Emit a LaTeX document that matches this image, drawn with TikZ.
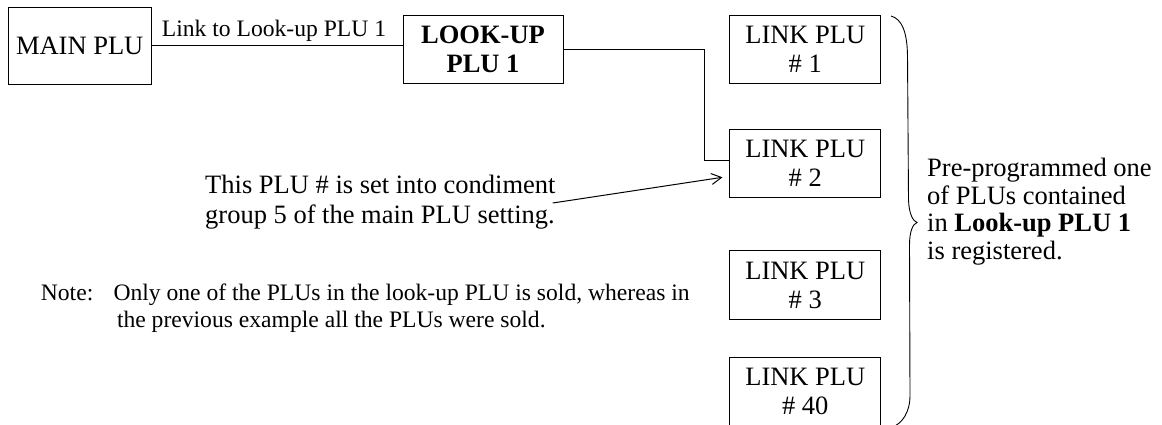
\documentclass[tikz,border=0pt]{standalone}
\usepackage{fontspec}
\setmainfont{Liberation Serif}
\usetikzlibrary{arrows.meta}
\newcommand{\bigtxt}{\fontsize{26.5}{29}\selectfont}
\newcommand{\smalltxt}{\fontsize{23.6}{27}\selectfont}
\begin{document}
\begin{tikzpicture}[x=1pt,y=-1pt,
  plubox/.style={draw, line width=1pt, inner sep=0pt, align=center,
                 font=\bigtxt, minimum height=68.3pt},
  linkbox/.style={plubox, minimum width=150.7pt},
  wire/.style={line width=1pt},
  textblock/.style={inner sep=0pt, align=left},
]
\useasboundingbox (0,0) rectangle (1162,425);
\clip (0,0) rectangle (1162,425);

% PLU boxes
\node[plubox, minimum width=142.7pt, minimum height=76.7pt] (main) at (79.7,45.7) {MAIN PLU};
\node[plubox, minimum width=160pt, font=\bigtxt\bfseries] (look) at (483,49.2) {LOOK-UP\\PLU 1};
\node[linkbox] (l1)  at (805.3,49.2)  {LINK PLU\\\# 1};
\node[linkbox] (l2)  at (805.3,163.5) {LINK PLU\\\# 2};
\node[linkbox] (l3)  at (805.3,285)   {LINK PLU\\\# 3};
\node[linkbox] (l40) at (805.3,391.5) {LINK PLU\\\# 40};

% links
\draw[wire] (main.east) -- (main.east -| look.west)
  node[midway, anchor=base, yshift=8.7pt, xshift=-3pt, font=\smalltxt] (lbl) {Link to Look-up PLU 1};
\draw[wire] (look.east) -- ++(141,0) |- ([yshift=2.8pt]l2.west);

% condiment remark (base anchor = baseline of the last line)
\node[textblock, font=\fontsize{26.5}{30}\selectfont, anchor=base west] (cond) at (205,223)
  {This PLU \# is set into condiment\\group 5 of the main PLU setting.};
\draw[wire, -{Straight Barb[length=10pt,width=11pt]}]
  ([xshift=-3pt,yshift=20pt]cond.base east) -- ([xshift=-7pt,yshift=-13.8pt]l2.west);

% brace over the link PLUs
\draw[line width=0.9pt] (891,16) .. controls (902,19) and (907,32) .. (907.5,55)
  -- (908.5,200) .. controls (909,214) and (913,221) .. (917,222.5)
  .. controls (913,224) and (909.5,231) .. (909.5,245)
  -- (910,395) .. controls (910,412) and (903,423) .. (891,428);

\node[textblock, font=\fontsize{26.5}{27.5}\selectfont, anchor=base west] (reg) at (927,259.2)
  {Pre-programmed one\\of PLUs contained\\in \textbf{Look-up PLU 1}\\is registered.};

% note
\node[textblock, font=\smalltxt, anchor=base west] (notelbl) at (40.7,300.7) {Note:};
\node[textblock, font=\smalltxt, anchor=base west] (notebody) at (113.3,327.7)
  {Only one of the PLUs in the look-up PLU is sold, whereas in\\\hspace*{3.5pt}the previous example all the PLUs were sold.};
\end{tikzpicture}
\end{document}
